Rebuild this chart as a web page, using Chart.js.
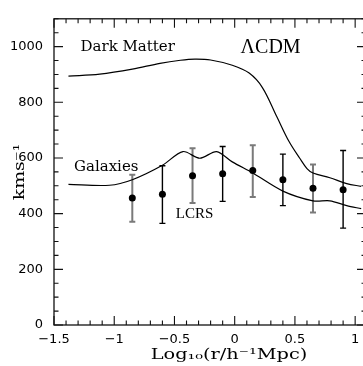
<!DOCTYPE html>
<html>
<head>
<meta charset="utf-8">
<script src="https://cdn.jsdelivr.net/npm/chart.js@4/dist/chart.umd.min.js"></script>
<style>
    html, body { margin: 0; padding: 0; background: #fff; overflow: hidden; }
    #mainContentDivId { width: 372px; height: 366px; }
</style>
</head>
<body>
<div id="mainContentDivId"></div>
<script>
// Dark matter pairwise velocity curve
const dmX = [-1.38, -1.12, -0.85, -0.62, -0.45, -0.33, -0.2, -0.02, 0.12, 0.23, 0.35, 0.45, 0.54, 0.6, 0.65, 0.79, 0.93, 1.05];
const dmY = [894, 901, 919, 940, 951, 955, 952, 933, 905, 853, 748, 660, 599, 562, 546, 529, 508, 498];

// Galaxies curve
const galX = [-1.38, -1.04, -0.85, -0.6, -0.43, -0.29, -0.15, -0.02, 0.15, 0.4, 0.65, 0.79, 0.93, 1.05];
const galY = [505, 502, 522, 574, 623, 599, 623, 586, 546, 481, 446, 446, 429, 418];

// LCRS points with error bars
const lcrsX = [-0.85, -0.6, -0.35, -0.1, 0.15, 0.4, 0.65, 0.9];
const lcrsY = [456, 470, 536, 543, 555, 522, 491, 486];
const lcrsLow = [371, 365, 438, 444, 460, 429, 404, 348];
const lcrsHigh = [540, 572, 635, 641, 646, 614, 577, 627];

const xTickValues = [-1.5, -1, -0.5, 0, 0.5, 1];
const yTickValues = [0, 200, 400, 600, 800, 1000];

let mainContentDiv;
let chartCanvas;

window.addEventListener("DOMContentLoaded", init);

function toPoints(xs, ys) {
    return xs.map((x, i) => ({ x: x, y: ys[i] }));
}

// error bars, alternating grey and black
const errorBarPlugin = {
    id: "errorBars",
    beforeDatasetsDraw(chart) {
        const ctx = chart.ctx;
        const xs = chart.scales.x, ys = chart.scales.y;
        ctx.save();
        lcrsX.forEach((v, i) => {
            const px = xs.getPixelForValue(v);
            const top = ys.getPixelForValue(lcrsHigh[i]);
            const bot = ys.getPixelForValue(lcrsLow[i]);
            ctx.strokeStyle = i % 2 === 0 ? "#7a7a7a" : "#000";
            ctx.lineWidth = i % 2 === 0 ? 2 : 1.4;
            ctx.beginPath();
            ctx.moveTo(px, top); ctx.lineTo(px, bot);
            ctx.moveTo(px - 3, top); ctx.lineTo(px + 3, top);
            ctx.moveTo(px - 3, bot); ctx.lineTo(px + 3, bot);
            ctx.stroke();
        });
        ctx.restore();
    }
};

// frame with inward ticks, plus text labels
const framePlugin = {
    id: "frame",
    afterDraw(chart) {
        const ctx = chart.ctx;
        const a = chart.chartArea;
        const xs = chart.scales.x, ys = chart.scales.y;
        ctx.save();
        ctx.strokeStyle = "#111";
        ctx.lineWidth = 1.3;
        ctx.strokeRect(a.left, a.top, a.right - a.left, a.bottom - a.top);

        ctx.lineWidth = 1.1;
        ctx.beginPath();
        for (let k = -15; k <= 10; k++) {
            const px = xs.getPixelForValue(k / 10);
            const len = k % 5 === 0 ? 9 : 4.5;
            ctx.moveTo(px, a.bottom); ctx.lineTo(px, a.bottom - len);
            ctx.moveTo(px, a.top); ctx.lineTo(px, a.top + len);
        }
        for (let v = 0; v <= 1100; v += 50) {
            const py = ys.getPixelForValue(v);
            const len = v % 200 === 0 ? 9 : 4.5;
            ctx.moveTo(a.left, py); ctx.lineTo(a.left + len, py);
            ctx.moveTo(a.right, py); ctx.lineTo(a.right - len, py);
        }
        ctx.stroke();

        ctx.fillStyle = "#000";
        ctx.textBaseline = "middle";
        ctx.textAlign = "left";
        ctx.font = "15px 'DejaVu Serif'";
        ctx.fillText("Dark Matter", xs.getPixelForValue(-1.28), ys.getPixelForValue(1000));
        ctx.fillText("Galaxies", xs.getPixelForValue(-1.334), ys.getPixelForValue(568));
        ctx.font = "15px 'Liberation Serif'";
        ctx.fillText("LCRS", xs.getPixelForValue(-0.489), ys.getPixelForValue(398));
        ctx.textAlign = "center";
        ctx.font = "20px 'Liberation Serif'";
        ctx.fillText("ΛCDM", xs.getPixelForValue(0.298), ys.getPixelForValue(997));

        // axis titles
        ctx.font = "14px 'DejaVu Serif'";
        ctx.save();
        ctx.translate(229, 355);
        ctx.scale(1.38, 1);
        ctx.fillText("Log₁₀(r/h⁻¹Mpc)", 0, 0);
        ctx.restore();

        ctx.font = "14px 'DejaVu Serif'";
        ctx.save();
        ctx.translate(20, 172);
        ctx.rotate(-Math.PI / 2);
        ctx.scale(1.35, 1);
        ctx.fillText("kms⁻¹", 0, 0);
        ctx.restore();

        ctx.restore();
    }
};

function init() {

    mainContentDiv = document.getElementById("mainContentDivId");
    chartCanvas = document.createElement("canvas");
    chartCanvas.setAttribute("id", "chartCanvasId");
    chartCanvas.width = 372;
    chartCanvas.height = 366;
    mainContentDiv.appendChild(chartCanvas);

    new Chart(chartCanvas, {
        type: 'scatter',
        data: {
            datasets: [{
                label: 'Dark Matter',
                data: toPoints(dmX, dmY),
                showLine: true,
                borderColor: '#000',
                borderWidth: 1.2,
                pointRadius: 0,
                tension: 0.35
            }, {
                label: 'Galaxies',
                data: toPoints(galX, galY),
                showLine: true,
                borderColor: '#000',
                borderWidth: 1.2,
                pointRadius: 0,
                tension: 0.3
            }, {
                label: 'LCRS',
                data: toPoints(lcrsX, lcrsY),
                showLine: false,
                pointRadius: 3.5,
                backgroundColor: '#000',
                borderColor: '#000',
                borderWidth: 0
            }]
        },
        options: {
            responsive: false,
            animation: false,
            devicePixelRatio: 1,
            layout: { padding: { left: 0, top: 9, right: 6, bottom: 0 } },
            plugins: {
                legend: { display: false },
                tooltip: { enabled: false }
            },
            scales: {
                x: {
                    type: 'linear',
                    min: -1.5,
                    max: 1.09,
                    grid: { display: false, drawTicks: false },
                    border: { display: false },
                    afterBuildTicks: s => { s.ticks = xTickValues.map(v => ({ value: v })); },
                    afterFit: s => { s.height = 41; },
                    ticks: {
                        padding: 7,
                        color: '#000',
                        font: { family: 'DejaVu Sans', size: 13 },
                        maxRotation: 0,
                        callback: v => String(v).replace('-', '\u2212')
                    }
                },
                y: {
                    type: 'linear',
                    min: 0,
                    max: 1100,
                    grid: { display: false, drawTicks: false },
                    border: { display: false },
                    afterBuildTicks: s => { s.ticks = yTickValues.map(v => ({ value: v })); },
                    afterFit: s => { s.width = 54; },
                    ticks: {
                        padding: 11,
                        color: '#000',
                        font: { family: 'DejaVu Sans', size: 13 },
                        callback: v => String(v)
                    }
                }
            }
        },
        plugins: [errorBarPlugin, framePlugin]
    });
}
</script>
</body>
</html>
